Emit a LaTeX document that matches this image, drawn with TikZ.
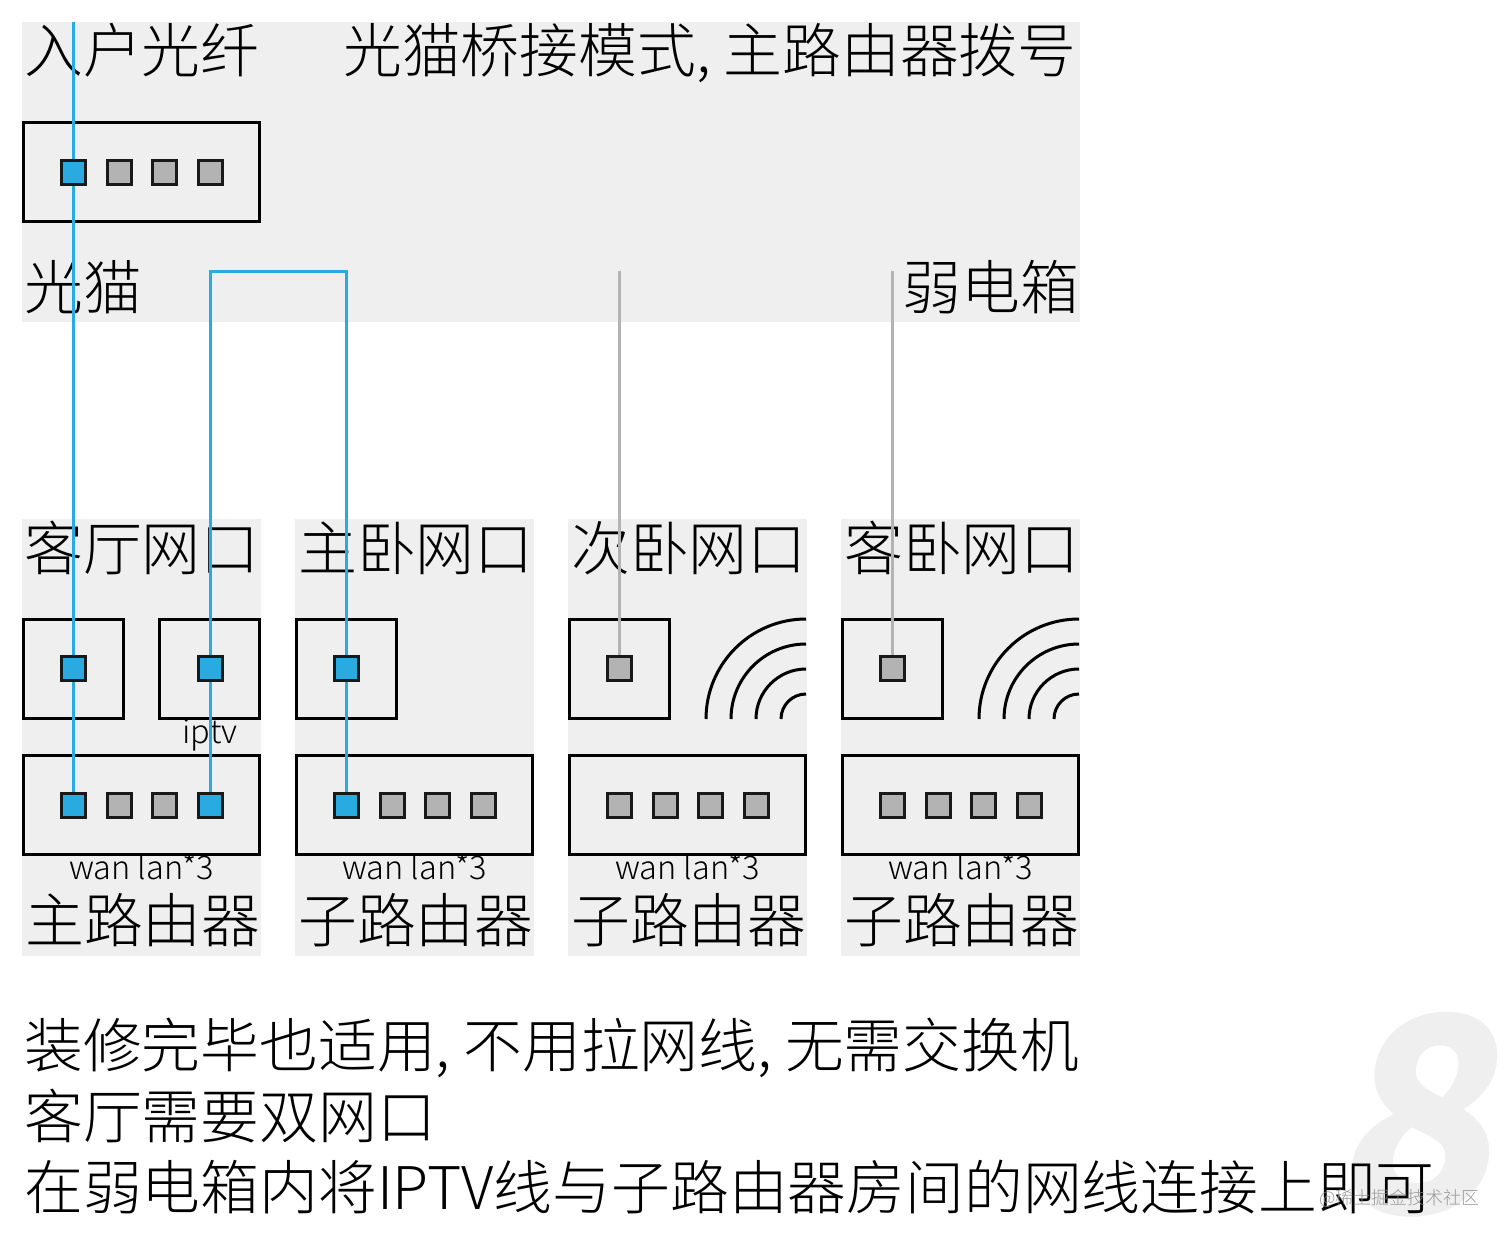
\documentclass[tikz,border=0pt]{standalone}
\usepackage{fontspec}
\setmainfont{Noto Sans CJK SC}[UprightFont=* Light]
\newfontfamily\heavyfont{Noto Sans CJK SC}[UprightFont=* Black]
\usepackage{xcolor}
\definecolor{panelGray}{RGB}{239,239,239}
\definecolor{portGray}{RGB}{179,179,179}
\definecolor{wireBlue}{RGB}{41,171,226}
\pgfdeclarelayer{panel}
\pgfdeclarelayer{wires}
\pgfsetlayers{panel,wires,main}
\tikzset{
 bigtext/.style={anchor=base west,inner sep=0pt,font=\fontsize{58.8}{58.8}\selectfont},
 smalltext/.style={anchor=base,inner sep=0pt,font=\fontsize{32.5}{32.5}\selectfont},
 hwbox/.style={draw=black,line width=3pt,inner sep=0pt},
 jackbox/.style={hwbox,minimum width=100pt,minimum height=99pt},
 routerbox/.style={hwbox,minimum width=236pt,minimum height=99pt},
 port/.style={draw=black!90,line width=3pt,inner sep=0pt,minimum size=24pt},
 grayport/.style={port,fill=portGray},
 blueport/.style={port,fill=wireBlue},
 bluewire/.style={draw=wireBlue,line width=3pt},
 graywire/.style={draw=portGray,line width=3pt},
 wifi/.style={line width=3pt}
}

\begin{document}
\begin{tikzpicture}[x=1pt,y=-1pt]
 \useasboundingbox (0,0) rectangle (1512,1239);
 \begin{pgfonlayer}{panel}
 \node[anchor=center,inner sep=0pt,text=panelGray,xslant=0.17,xscale=0.97,font=\heavyfont\fontsize{272}{272}\selectfont] (bigeight) at (1429,1115) {8};
 \fill[panelGray] (22,22) rectangle (1080,322);
 \fill[panelGray] (22,519) rectangle (261,956);
 \fill[panelGray] (295,519) rectangle (534,956);
 \fill[panelGray] (568,519) rectangle (807,956);
 \fill[panelGray] (841,519) rectangle (1080,956);
 \node[bigtext] (fibertext) at (24,73) {入户光纤};
 \node[bigtext] (modetext) at (343,73) {光猫桥接模式, 主路由器拨号};
 \node[bigtext] (modemtext) at (24,309) {光猫};
 \node[bigtext,anchor=base east] (boxtext) at (1079,309) {弱电箱};
 \node[bigtext] (livingtext) at (24,570) {客厅网口};
 \node[bigtext] (mastertext) at (298,570) {主卧网口};
 \node[bigtext] (secondtext) at (571,570) {次卧网口};
 \node[bigtext] (guesttext) at (844,570) {客卧网口};
 \node[bigtext] (mainrtext) at (25,942) {主路由器};
 \node[bigtext] (subatext) at (298,942) {子路由器};
 \node[bigtext] (subbtext) at (571,942) {子路由器};
 \node[bigtext] (subctext) at (844,942) {子路由器};
 \node[smalltext] (iptvtext) at (210,743) {iptv};
 \node[smalltext] (wanmain) at (141.5,879) {wan lan*3};
 \node[smalltext] (wansuba) at (414.5,879) {wan lan*3};
 \node[smalltext] (wansubb) at (687.5,879) {wan lan*3};
 \node[smalltext] (wansubc) at (960.5,879) {wan lan*3};
 \node[bigtext] (notea) at (24,1067) {装修完毕也适用, 不用拉网线, 无需交换机};
 \node[bigtext] (noteb) at (24,1138) {客厅需要双网口};
 \node[bigtext] (notec) at (24,1209) {在弱电箱内将IPTV线与子路由器房间的网线连接上即可};
 \node[routerbox] (modembox) at (141.5,172) {};
 \node[jackbox] (livingbox) at (73.5,669) {};
 \node[jackbox] (iptvbox) at (209.5,669) {};
 \node[jackbox] (masterbox) at (346.5,669) {};
 \node[jackbox] (secondbox) at (619.5,669) {};
 \node[jackbox] (guestbox) at (892.5,669) {};
 \node[routerbox] (mainrbox) at (141.5,805) {};
 \node[routerbox] (subabox) at (414.5,805) {};
 \node[routerbox] (subbbox) at (687.5,805) {};
 \node[routerbox] (subcbox) at (960.5,805) {};
 \draw[wifi] (706,719) arc (180:270:100);
 \draw[wifi] (731,719) arc (180:270:75);
 \draw[wifi] (756,719) arc (180:270:50);
 \draw[wifi] (781,719) arc (180:270:25);
 \draw[wifi] (979,719) arc (180:270:100);
 \draw[wifi] (1004,719) arc (180:270:75);
 \draw[wifi] (1029,719) arc (180:270:50);
 \draw[wifi] (1054,719) arc (180:270:25);
 \end{pgfonlayer}
 \node[blueport] (modemone) at (73,172) {};
 \node[grayport] (modemtwo) at (119,172) {};
 \node[grayport] (modemthree) at (164,172) {};
 \node[grayport] (modemfour) at (210,172) {};
 \node[blueport] (livingjack) at (73,668.5) {};
 \node[blueport] (iptvjack) at (210,668.5) {};
 \node[blueport] (masterjack) at (346,668.5) {};
 \node[grayport] (secondjack) at (619,668.5) {};
 \node[grayport] (guestjack) at (892,668.5) {};
 \node[blueport] (mainrone) at (73,805) {};
 \node[grayport] (mainrtwo) at (119,805) {};
 \node[grayport] (mainrthree) at (164,805) {};
 \node[blueport] (mainrfour) at (210,805) {};
 \node[blueport] (subaone) at (346,805) {};
 \node[grayport] (subatwo) at (392,805) {};
 \node[grayport] (subathree) at (437,805) {};
 \node[grayport] (subafour) at (483,805) {};
 \node[grayport] (subbone) at (619,805) {};
 \node[grayport] (subbtwo) at (665,805) {};
 \node[grayport] (subbthree) at (710,805) {};
 \node[grayport] (subbfour) at (756,805) {};
 \node[grayport] (subcone) at (892,805) {};
 \node[grayport] (subctwo) at (938,805) {};
 \node[grayport] (subcthree) at (983,805) {};
 \node[grayport] (subcfour) at (1029,805) {};
 \coordinate (fiberin) at (73,22);
 \coordinate (bendleft) at (210,271);
 \coordinate (bendright) at (346,271);
 \coordinate (secondend) at (619,271);
 \coordinate (guestend) at (892,271);
 \begin{pgfonlayer}{wires}
 \draw[bluewire] (fiberin) -- (modemone.center) -- (livingjack.center) -- (mainrone.center);
 \draw[bluewire] (mainrfour.center) -- (iptvjack.center) -- (bendleft) -- (bendright) -- (masterjack.center) -- (subaone.center);
 \draw[graywire] (secondend) -- (secondjack.center);
 \draw[graywire] (guestend) -- (guestjack.center);
 \end{pgfonlayer}
 \node[anchor=base east,inner sep=0pt,text=black!45,opacity=0.85,font=\fontsize{18}{18}\selectfont] (marktext) at (1480,1204) {@稀土掘金技术社区};
\end{tikzpicture}
\end{document}
